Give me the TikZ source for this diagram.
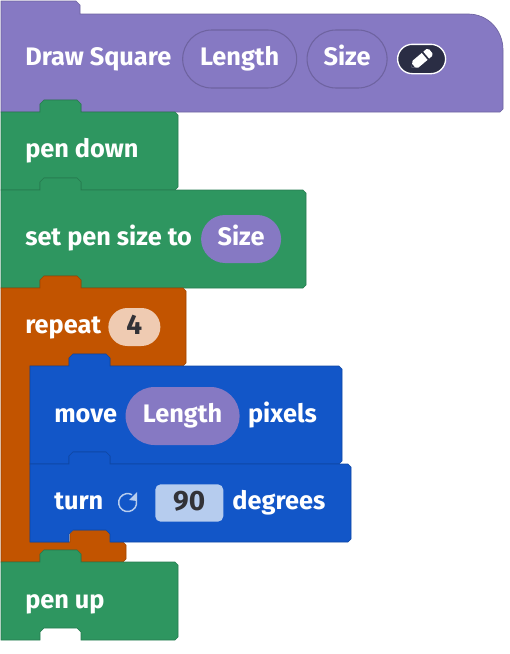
\documentclass[tikz,border=0pt]{standalone}
\usepackage{fontspec}
\setmainfont{Fira Sans}
\definecolor{HatPurple}{RGB}{134, 121, 195}
\definecolor{PenGreen}{RGB}{46, 150, 96}
\definecolor{LoopOrange}{RGB}{194, 84, 0}
\definecolor{MoveBlue}{RGB}{18, 86, 200}
\definecolor{InputOrange}{RGB}{239, 203, 178}
\definecolor{InputBlue}{RGB}{182, 204, 238}
\definecolor{EditDark}{RGB}{42, 45, 68}
\definecolor{NumDark}{RGB}{50, 50, 55}
\usetikzlibrary{positioning, shapes.misc}
\newcommand{\tabright}{-- ++(0,-8) -- ++(4,-4) -- ++(33,0) -- ++(4,4) -- ++(0,8)}
\newcommand{\tableft}{-- ++(0,-8) -- ++(-4,-4) -- ++(-33,0) -- ++(-4,4) -- ++(0,8)}
% colour, left, top, right, bottom
\newcommand{\stackblock}[5]{
    \draw[#1!82!black, line width=0.5pt, fill=#1] (#2,#3) -- ++(39,0) \tabright -- (#4-3,#3) -- (#4,#3+3) -- (#4,#5-3) -- (#4-3,#5) -- (#2+80,#5) \tableft -- (#2,#5) -- cycle;
}
\tikzset{
    lbl/.style={text=white, inner sep=0pt, font=\bfseries\fontsize{19}{22}\selectfont, text height=13.5pt, text depth=4pt},
    pill/.style={rounded rectangle, lbl, minimum height=43.5pt},
    numbox/.style={lbl, text=NumDark, font=\fontsize{21}{24}\selectfont\bfseries, text height=15.5pt},
}
\begin{document}
\begin{tikzpicture}[x=0.75pt, y=-0.75pt]
    \useasboundingbox (0,0) rectangle (510,654);
    % hat block
    \draw[HatPurple!82!black, line width=0.5pt, fill=HatPurple] (1,1) -- (76,1) -- (80,5) -- (80,14) -- (468,14) .. controls (488,14) and (503,30) .. (503,50) -- (503,109) -- (500,112) -- (81,112) \tableft -- (1,112) -- cycle;
    % stacked blocks
    \stackblock{PenGreen}{1}{112}{178}{190}
    \stackblock{PenGreen}{1}{190}{306}{288}
    \draw[LoopOrange!82!black, line width=0.5pt, fill=LoopOrange] (1,288) -- ++(39,0) \tabright -- (183,288) -- (186,291) -- (186,363) -- (183,366) -- (110,366) \tableft -- (30,366) -- (30,542) -- (70,542) \tabright -- (123,542) -- (126,545) -- (126,559) -- (123,562) -- (81,562) \tableft -- (1,562) -- cycle;
    \stackblock{MoveBlue}{30}{366}{342}{464}
    \stackblock{MoveBlue}{30}{464}{351}{542}
    \stackblock{PenGreen}{1}{562}{178}{640}
    % hat row
    \node[lbl, anchor=west] (draw) at (25,59) {Draw Square};
    \node[pill, draw=HatPurple!82!black, line width=0.8pt, minimum width=85.5pt, right=8pt of draw] (length) {Length};
    \node[pill, draw=HatPurple!82!black, line width=0.8pt, minimum width=60pt, right=7pt of length] (size) {Size};
    \node[rounded rectangle, draw=white, fill=EditDark, line width=1pt, minimum width=36pt, minimum height=22pt, inner sep=0pt, right=7pt of size] (edit) {};
    \begin{scope}[shift={(edit.center)}, rotate=40]
        \fill[white] (-13,0) -- (-8,-4.5) -- (4,-4.5) -- (4,4.5) -- (-8,4.5) -- cycle;
        \fill[white] (6,-4.5) -- (10,-4.5) -- (12,-2.5) -- (12,2.5) -- (10,4.5) -- (6,4.5) -- cycle;
        \fill[EditDark] (-13,0) -- (-10.5,-2) -- (-10.5,2) -- cycle;
    \end{scope}
    % green rows
    \node[lbl, anchor=west] (pendown) at (25,151) {pen down};
    \node[lbl, anchor=west] (pensize) at (25,239) {set pen size to};
    \node[pill, fill=HatPurple, minimum width=60pt, minimum height=36pt, right=6.5pt of pensize] (sizeval) {Size};
    % repeat row
    \node[lbl, anchor=west] (repeat) at (25,327) {repeat};
    \node[numbox, rounded rectangle, fill=InputOrange, minimum width=39pt, minimum height=28.5pt, right=5pt of repeat] (times) {4};
    % move row
    \node[lbl, anchor=west] (move) at (54,416) {move};
    \node[pill, fill=HatPurple, minimum width=85.5pt, right=6pt of move] (lengthval) {Length};
    \node[lbl, right=6pt of lengthval] (pixels) {pixels};
    % turn row
    \node[lbl, anchor=west] (turn) at (54,503) {turn};
    \draw[InputBlue, line width=1.1pt] (136.5,501) arc[start angle=10, end angle=-300, x radius=9, y radius=-9];
    \fill[InputBlue] (137,492) -- (137,501) -- (129,500) -- cycle;
    \node[numbox, rounded corners=4pt, fill=InputBlue, minimum width=51pt, minimum height=28pt, anchor=west] (angle) at (155,503) {90};
    \node[lbl, right=6.5pt of angle] (degrees) {degrees};
    % last row
    \node[lbl, anchor=west] (penup) at (25,602) {pen up};
\end{tikzpicture}
\end{document}
